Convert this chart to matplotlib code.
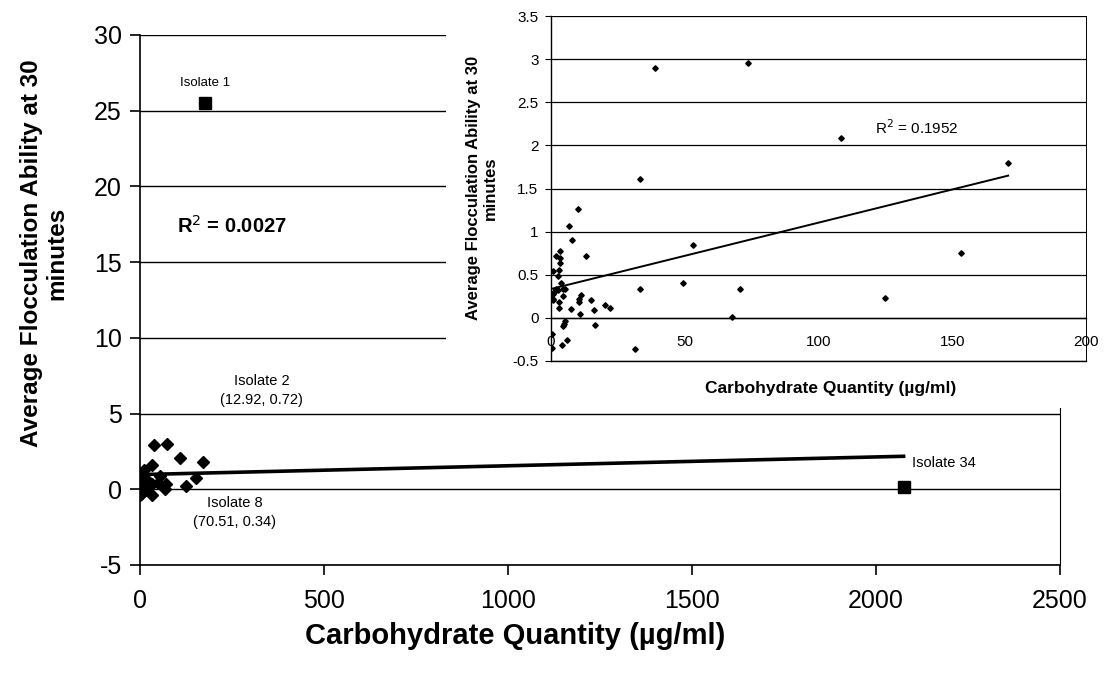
import matplotlib
matplotlib.use("Agg")
import matplotlib.pyplot as plt
from matplotlib.patches import Rectangle
from matplotlib.ticker import FuncFormatter

plt.rcParams["font.family"] = ["Liberation Sans", "DejaVu Sans"]
plt.rcParams["axes.unicode_minus"] = False

# carbohydrate (ug/ml) and flocculation ability for the isolates
carb = [10.2, 6.6, 7.8, 12.92, 1.8, 3.5, 3.5, 3.5, 0.8, 3.0, 2.8, 3.8,
        4.3, 5.2, 1.9, 2.6, 0.6, 0.9, 0.0, 4.4, 2.9, 3.1, 7.5, 10.3,
        11.2, 10.4, 14.8, 16.2, 20.2, 22.2, 11.0, 33.3, 49.3, 53.2,
        70.51, 67.8, 5.4, 4.9, 4.4, 16.4, 5.8, 4.0, 31.3, 0.3, 0.4,
        1.3, 0.8, 124.8, 153.2, 108.5, 170.9, 73.8, 38.9, 33.3]
floc = [1.26, 1.06, 0.90, 0.72, 0.72, 0.77, 0.70, 0.64, 0.54, 0.55, 0.48,
        0.41, 0.34, 0.34, 0.33, 0.32, 0.28, 0.22, 0.22, 0.25, 0.18, 0.11,
        0.10, 0.22, 0.26, 0.18, 0.21, 0.09, 0.15, 0.11, 0.05, 0.33, 0.40,
        0.85, 0.34, 0.01, -0.04, -0.07, -0.09, -0.08, -0.26, -0.32,
        -0.36, -0.19, -0.35, 0.30, 0.21, 0.23, 0.755, 2.08, 1.80, 2.96,
        2.90, 1.61]

# outlying isolates shown only on the full-range plot
outlier_carb = [177, 2075]
outlier_floc = [25.5, 0.15]

# linear trend lines (intercept, slope)
trend_all = (0.97, 0.000583)
trend_zoom = (0.335, 0.00769)

W, H = 1105, 673
fig = plt.figure(figsize=(W / 100, H / 100), dpi=100)

# full range plot
ax = fig.add_axes([140 / W, 1 - 565 / H, 920 / W, 530 / H])
ax.set_xlim(0, 2500)
ax.set_ylim(-5, 30)
ax.set_xticks(range(0, 2501, 500))
ax.set_yticks(range(-5, 31, 5))
ax.grid(axis="y", color="black", lw=1)
ax.set_axisbelow(True)
ax.spines["top"].set_visible(False)
ax.spines["right"].set_linestyle((0, (2, 1)))
ax.spines["right"].set_linewidth(0.8)
ax.spines["left"].set_linewidth(1.2)
ax.spines["bottom"].set_linewidth(1.2)
ax.tick_params(direction="out", length=7, width=1.2, labelsize=18)
ax.tick_params(axis="x", pad=10)
ax.tick_params(axis="y", pad=6)

x_all = carb + outlier_carb
x0, x1 = min(x_all), max(x_all)
ax.plot([x0, x1], [trend_all[0] + trend_all[1] * x0,
                   trend_all[0] + trend_all[1] * x1],
        color="black", lw=2.6, zorder=3)
ax.plot(carb, floc, "D", ms=6, color="black", zorder=4)
ax.plot(outlier_carb, outlier_floc, "s", ms=8.5, color="black", zorder=4)

ax.text(177, 26.8, "Isolate 1", ha="center", va="center", fontsize=9.5)
ax.text(331, 6.5, "Isolate 2\n(12.92, 0.72)", ha="center", va="center",
        fontsize=10.5, linespacing=1.45)
ax.text(258, -1.55, "Isolate 8\n(70.51, 0.34)", ha="center", va="center",
        fontsize=10.5, linespacing=1.45)
ax.text(2098, 1.75, "Isolate 34", ha="left", va="center", fontsize=10.5)
ax.text(100, 17.4, "R$^2$ = 0.0027", ha="left", va="center", fontsize=14.5,
        fontweight="bold")

fig.text(515 / W, 1 - 636 / H, "Carbohydrate Quantity (µg/ml)",
         ha="center", va="center", fontsize=21, fontweight="bold")
fig.text(44 / W, 1 - 253 / H, "Average Flocculation Ability at 30\nminutes",
         ha="center", va="center", rotation=90, fontsize=17.5,
         fontweight="bold", linespacing=1.12)

# white panel behind the zoomed-in plot
fig.add_artist(Rectangle((446 / W, 1 - 408 / H), 1 - 446 / W, 408 / H,
                         transform=fig.transFigure, facecolor="white",
                         edgecolor="none", zorder=1))

# zoomed-in plot
ins = fig.add_axes([551 / W, 1 - 361 / H, 535 / W, 345 / H])
ins.set_zorder(2)
ins.set_xlim(0, 200)
ins.set_ylim(-0.5, 3.5)
ins.set_xticks(range(0, 201, 50))
ins.set_yticks([v / 2 for v in range(-1, 8)])
ins.yaxis.set_major_formatter(FuncFormatter(lambda v, p: f"{v:g}"))
ins.grid(axis="y", color="black", lw=0.9)
ins.set_axisbelow(True)
ins.spines["bottom"].set_position(("data", 0))
ins.spines["bottom"].set_linewidth(1)
ins.spines["left"].set_linewidth(1)
for side in ("top", "right"):
    ins.spines[side].set_linestyle((0, (2, 1)))
    ins.spines[side].set_linewidth(0.7)
ins.axhline(-0.5, color="black", lw=1, clip_on=False)
ins.tick_params(axis="y", direction="out", length=4, labelsize=11, pad=5)
ins.tick_params(axis="x", direction="out", length=0, labelsize=11, pad=12)

z0, z1 = min(carb), max(carb)
ins.plot([z0, z1], [trend_zoom[0] + trend_zoom[1] * z0,
                    trend_zoom[0] + trend_zoom[1] * z1],
         color="black", lw=1.4, zorder=3)
ins.plot(carb, floc, "D", ms=2.8, color="black", zorder=4)
ins.text(121, 2.21, "R$^2$ = 0.1952", ha="left", va="center", fontsize=11)

fig.text(831 / W, 1 - 389 / H, "Carbohydrate Quantity (µg/ml)",
         ha="center", va="center", fontsize=12.5, fontweight="bold")
fig.text(482 / W, 1 - 188 / H, "Average Flocculation Ability at 30\nminutes",
         ha="center", va="center", rotation=90, fontsize=12,
         fontweight="bold", linespacing=1.2)

fig.savefig("out.png", dpi=100)
